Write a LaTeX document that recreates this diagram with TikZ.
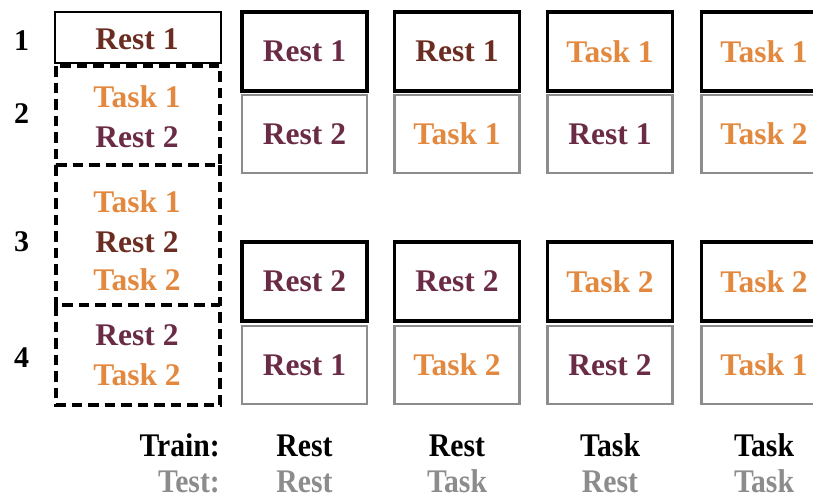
\documentclass[tikz,border=0pt]{standalone}
\usepackage{fontspec}
\setmainfont{Liberation Serif}
\definecolor{plum}{HTML}{6A2B45}
\definecolor{rustbrown}{HTML}{6B2D22}
\definecolor{taskorange}{HTML}{E3893F}
\definecolor{testgray}{HTML}{8C8C8C}
\newcommand\narrowtxt[1]{\scalebox{0.9}[1]{#1}}
\begin{document}
\begin{tikzpicture}[x=1pt,y=-1pt,
  lbl/.style={font=\fontsize{31.5}{36}\selectfont\bfseries, inner sep=0pt},
  linelbl/.style={lbl, anchor=base},
  restc/.style={text=plum},
  restd/.style={text=rustbrown},
  taskc/.style={text=taskorange},
  trainbox/.style={lbl, draw=black, line width=3.4pt, minimum width=125pt, minimum height=79pt},
  testbox/.style={lbl, draw=testgray, line width=2.8pt, minimum width=125pt, minimum height=78pt},
  dashbox/.style={draw=black, line width=3.1pt, dash pattern=on 10.5pt off 6pt},
  rownum/.style={font=\fontsize{30}{34}\selectfont\bfseries, inner sep=0pt},
  footlbl/.style={font=\fontsize{33}{38}\selectfont\bfseries, inner sep=0pt, anchor=base},
]
\useasboundingbox (0,0) rectangle (813,499);

% row numbers
\node[rownum] (n1) at (21.5,41) {1};
\node[rownum] (n2) at (21.5,114) {2};
\node[rownum] (n3) at (21.5,242) {3};
\node[rownum] (n4) at (21.5,358) {4};

% left column: session blocks
\draw[line width=2.4pt] (55,12) rectangle (221,63);
\draw[dashbox] (56,66) rectangle (220,165);
\draw[dashbox] (56,165) -- (56,305) (220,165) -- (220,305);
\draw[dashbox] (56,305) rectangle (220,405);

\node[linelbl, restd] (l1)  at (137,49)  {Rest 1};
\node[linelbl, taskc] (l2a) at (137,107) {Task 1};
\node[linelbl, restc] (l2b) at (137,147) {Rest 2};
\node[linelbl, taskc] (l3a) at (137,212) {Task 1};
\node[linelbl, restd] (l3b) at (137,252) {Rest 2};
\node[linelbl, taskc] (l3c) at (137,290) {Task 2};
\node[linelbl, restc] (l4a) at (137,345) {Rest 2};
\node[linelbl, taskc] (l4b) at (137,385) {Task 2};

% upper block of train/test pairs
\node[trainbox, restc] (a1) at (304.5,51.5) {Rest 1};
\node[testbox,  restc] (b1) at (304.5,134)  {Rest 2};
\node[trainbox, restd] (a2) at (457,51.5)   {Rest 1};
\node[testbox,  taskc] (b2) at (457,134)    {Task 1};
\node[trainbox, taskc] (a3) at (610,51.5)   {Task 1};
\node[testbox,  restc] (b3) at (610,134)    {Rest 1};
\node[trainbox, taskc] (a4) at (764,51.5)   {Task 1};
\node[testbox,  taskc] (b4) at (764,134)    {Task 2};

% lower block of train/test pairs
\node[trainbox, restc] (c1) at (304.5,281.5) {Rest 2};
\node[testbox,  restc] (d1) at (304.5,365)   {Rest 1};
\node[trainbox, restc] (c2) at (457,281.5)   {Rest 2};
\node[testbox,  taskc] (d2) at (457,365)     {Task 2};
\node[trainbox, taskc] (c3) at (610,281.5)   {Task 2};
\node[testbox,  restc] (d3) at (610,365)     {Rest 2};
\node[trainbox, taskc] (c4) at (764,281.5)   {Task 2};
\node[testbox,  taskc] (d4) at (764,365)     {Task 1};

% legend rows
\node[footlbl, anchor=base east] (trainlbl) at (220,456) {\narrowtxt{Train:}};
\node[footlbl, anchor=base east, text=testgray] (testlbl) at (220,492) {\narrowtxt{Test:}};
\node[footlbl] (tr1) at (304.5,456) {\narrowtxt{Rest}};
\node[footlbl] (tr2) at (457,456)   {\narrowtxt{Rest}};
\node[footlbl] (tr3) at (610,456)   {\narrowtxt{Task}};
\node[footlbl] (tr4) at (764,456)   {\narrowtxt{Task}};
\node[footlbl, text=testgray] (te1) at (304.5,492) {\narrowtxt{Rest}};
\node[footlbl, text=testgray] (te2) at (457,492)   {\narrowtxt{Task}};
\node[footlbl, text=testgray] (te3) at (610,492)   {\narrowtxt{Rest}};
\node[footlbl, text=testgray] (te4) at (764,492)   {\narrowtxt{Task}};
\end{tikzpicture}
\end{document}
